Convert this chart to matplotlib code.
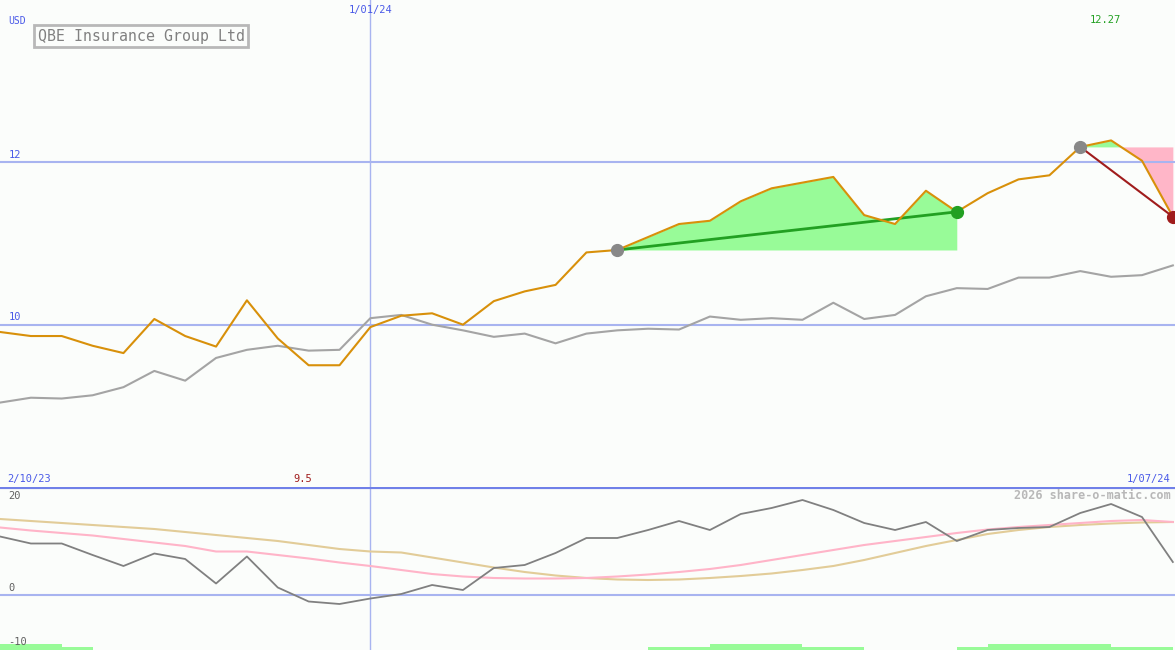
import numpy as np
import matplotlib
matplotlib.use('Agg')
import matplotlib.pyplot as plt

# weekly closes, 2/10/23 .. 1/07/24
price = [9.91, 9.86, 9.86, 9.74, 9.65, 10.07, 9.86, 9.73, 10.30, 9.83,
         9.50, 9.50, 9.97, 10.11, 10.14, 10.00, 10.29, 10.41, 10.49, 10.89,
         10.92, 11.08, 11.24, 11.28, 11.52, 11.68, 11.75, 11.82, 11.35, 11.24,
         11.65, 11.39, 11.62, 11.79, 11.84, 12.19, 12.27, 12.02, 11.33]
index_line = [9.04, 9.10, 9.09, 9.13, 9.23, 9.43, 9.31, 9.59, 9.69, 9.74,
              9.68, 9.69, 10.08, 10.12, 10.00, 9.93, 9.85, 9.89, 9.77, 9.89,
              9.93, 9.95, 9.94, 10.10, 10.06, 10.08, 10.06, 10.27, 10.07, 10.12,
              10.35, 10.45, 10.44, 10.58, 10.58, 10.66, 10.59, 10.61, 10.73]

# lower panel
momentum = [11.7, 10.3, 10.3, 8.0, 5.8, 8.3, 7.2, 2.3, 7.7, 1.5,
            -1.3, -1.8, -0.7, 0.2, 2.0, 1.0, 5.4, 6.0, 8.4, 11.4,
            11.4, 13.0, 14.8, 13.0, 16.2, 17.4, 19.0, 17.0, 14.4, 13.0,
            14.6, 10.8, 13.0, 13.4, 13.6, 16.4, 18.2, 15.6, 6.6]
avg_fast = [13.5, 12.9, 12.4, 11.9, 11.2, 10.5, 9.8, 8.7, 8.7, 8.0,
            7.3, 6.5, 5.8, 5.0, 4.2, 3.7, 3.4, 3.3, 3.3, 3.4,
            3.7, 4.1, 4.6, 5.2, 6.0, 7.0, 8.0, 9.0, 10.0, 10.8,
            11.6, 12.4, 13.1, 13.6, 14.0, 14.4, 14.8, 15.0, 14.6]
avg_slow = [15.2, 14.8, 14.4, 14.0, 13.6, 13.2, 12.6, 12.0, 11.4, 10.8,
            10.0, 9.2, 8.7, 8.5, 7.5, 6.5, 5.5, 4.6, 3.9, 3.4,
            3.1, 3.0, 3.1, 3.4, 3.8, 4.3, 5.0, 5.8, 7.0, 8.4,
            9.8, 11.0, 12.2, 13.0, 13.6, 14.0, 14.3, 14.5, 14.6]
# signal strip per week (0 none, 1 weak, 2 strong)
signal = [2, 2, 1, 0, 0, 0, 0, 0, 0, 0, 0, 0, 0, 0, 0, 0, 0, 0, 0, 0, 0,
          1, 1, 2, 2, 2, 1, 1, 0, 0, 0, 1, 2, 2, 2, 2, 1, 1]

rise_start, rise_end = 20, 31
fall_start, fall_end = 35, 38
jan_idx = 12

x = np.arange(len(price))
p = np.array(price)
bg = '#fbfdfb'
grid_c = '#a8b4f0'
mono = 'DejaVu Sans Mono'

fig = plt.figure(figsize=(11.75, 6.5), dpi=100, facecolor=bg)
ax = fig.add_axes([0, 163/650, 1, 487/650], facecolor=bg)
ax2 = fig.add_axes([0, 0, 1, 163/650], facecolor=bg)
for a in (ax, ax2):
    a.set_xlim(0, 38.07)
    for s in a.spines.values():
        s.set_visible(False)
    a.set_xticks([])
    a.set_yticks([])
    a.axvline(jan_idx, color=grid_c, lw=1)

ax.set_ylim(8, 14)
for lv in (10, 12):
    ax.axhline(lv, color=grid_c, lw=1.5)
    ax.text(0.007, lv + 0.03, str(lv), transform=ax.get_yaxis_transform(),
            color='#4a5ae8', fontsize=7.5, family=mono, va='bottom')

# rising trend
xs = x[rise_start:rise_end + 1]
ax.fill_between(xs, p[rise_start], p[rise_start:rise_end + 1], color='#98fb98', lw=0)
ax.plot([rise_start, rise_end], [p[rise_start], p[rise_end]], color='#22a022', lw=2)

# falling trend
xf = x[fall_start:fall_end + 1]
pf = p[fall_start:fall_end + 1]
base = p[fall_start]
ax.fill_between(xf, base, pf, where=pf >= base, interpolate=True, color='#98fb98', lw=0)
ax.fill_between(xf, base, pf, where=pf < base, interpolate=True, color='#ffb6c8', lw=0)
ax.plot([fall_start, fall_end], [p[fall_start], p[fall_end]], color='#a01c1c', lw=1.5)

ax.plot(x, index_line, color='#a4a4a4', lw=1.5)
ax.plot(x, price, color='#d8900a', lw=1.5)

ax.plot(rise_start, p[rise_start], 'o', color='#888888', ms=8.5, zorder=5)
ax.plot(rise_end, p[rise_end], 'o', color='#22a022', ms=8.5, zorder=5)
ax.plot(fall_start, p[fall_start], 'o', color='#888888', ms=8.5, zorder=5)
ax.plot(fall_end, p[fall_end], 'o', color='#a01c1c', ms=8.5, zorder=5)

ax.text(0.007, 0.957, 'USD', transform=ax.transAxes, color='#4a5ae8',
        fontsize=7, family=mono, va='center')
ax.text(0.032, 0.926, 'QBE Insurance Group Ltd', transform=ax.transAxes,
        color='#808080', fontsize=10.7, family=mono, va='center',
        bbox=dict(boxstyle='square,pad=0.22', fc=bg, ec='#b8b8b8', lw=2))
ax.text(jan_idx, 0.99, '1/01/24', transform=ax.get_xaxis_transform(),
        color='#4a5ae8', fontsize=7.5, family=mono, ha='center', va='top')
imax = int(np.argmax(p))
imin = int(np.argmin(p))
ax.text(imax - 0.2, 0.958, f'{p[imax]:.2f}', transform=ax.get_xaxis_transform(),
        color='#22a022', fontsize=7.5, family=mono, ha='center', va='center')
ax.text(imin - 0.2, 0.016, f'{p[imin]:g}', transform=ax.get_xaxis_transform(),
        color='#a01c1c', fontsize=7.5, family=mono, ha='center', va='center')
ax.text(0.006, 0.016, '2/10/23', transform=ax.transAxes, color='#4a5ae8',
        fontsize=7.5, family=mono, va='center')
ax.text(0.996, 0.016, '1/07/24', transform=ax.transAxes, color='#4a5ae8',
        fontsize=7.5, family=mono, va='center', ha='right')

# lower panel
ax2.set_ylim(-11, 21.6)
ax2.axhline(0, color=grid_c, lw=1.5)
ax2.axhline(21.6, color='#7080e8', lw=3)
ax2.plot(x, avg_slow, color='#e2cc98', lw=1.5)
ax2.plot(x, avg_fast, color='#ffb4c8', lw=1.5)
ax2.plot(x, momentum, color='#808080', lw=1.3)
sig = np.array(signal)
ax2.bar(x[:-1], np.where(sig == 2, 1.2, np.where(sig == 1, 0.6, 0)), width=1,
        align='edge', bottom=-11, color='#98fb98', lw=0)
for lv, lab, off in ((20, '20', -0.2), (0, '0', 1.4), (-10, '-10', 0.6)):
    ax2.text(0.007, lv + off, lab, transform=ax2.get_yaxis_transform(),
             color='#606060', fontsize=7.5, family=mono, va='center')
ax2.text(0.996, 0.945, '2026 share-o-matic.com', transform=ax2.transAxes,
         color='#b8b8b8', fontsize=8.5, family=mono, fontweight='bold',
         ha='right', va='center')

fig.savefig('out.png', dpi=100, facecolor=bg)
